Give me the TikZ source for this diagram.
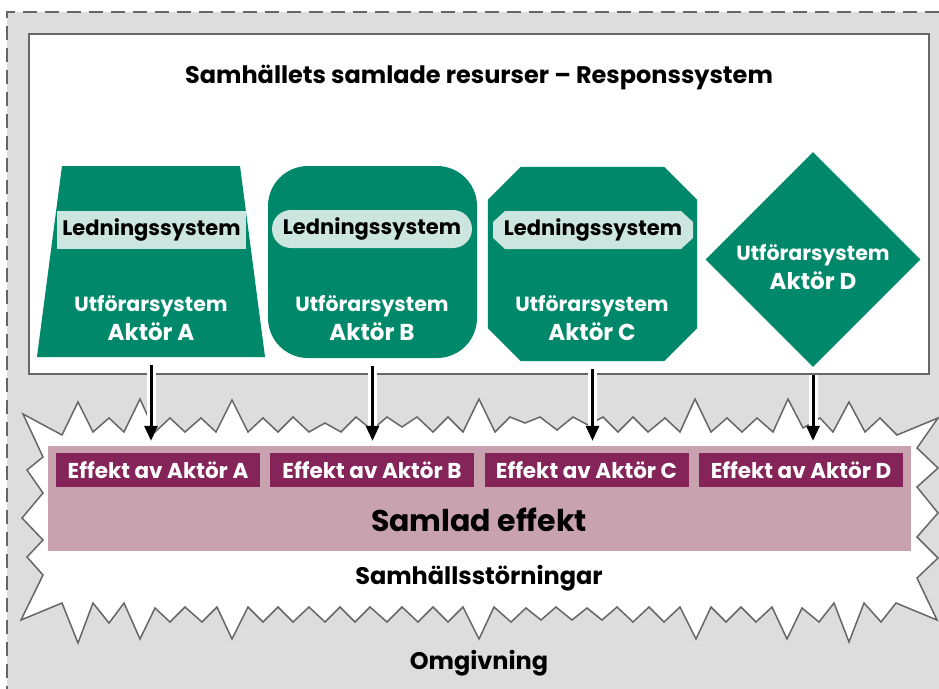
\documentclass[tikz,border=0pt]{standalone}
\usepackage{fontspec}
\setmainfont{Poppins}
\usepackage{xcolor}
\usepackage{tikz}
\usetikzlibrary{shapes.geometric,arrows.meta}

\definecolor{grun}{RGB}{0,136,106}
\definecolor{ljusgrun}{RGB}{204,230,223}
\definecolor{vin}{RGB}{133,36,88}
\definecolor{rosa}{RGB}{201,162,176}
\definecolor{omgiv}{RGB}{221,221,221}
\definecolor{kant}{RGB}{102,102,102}

\newcommand{\aktorrad}[1]{Utförarsystem\\\fontsize{23}{29}\selectfont Aktör #1}

\begin{document}
\begin{tikzpicture}[x=1pt,y=-1pt,
    aktor/.style={fill=grun,inner sep=1pt},
    lednings/.style={inner sep=0pt,minimum height=38pt,font=\bfseries\fontsize{21}{21}\selectfont},
    utforar/.style={text=white,align=center,font=\bfseries\fontsize{20.5}{29}\selectfont},
    effekt/.style={fill=vin,text=white,inner sep=0pt,minimum width=204pt,minimum height=34pt,font=\bfseries\fontsize{21.5}{21.5}\selectfont},
    rubrik/.style={font=\bfseries\fontsize{24}{24}\selectfont},
    pil/.style={line width=3pt,-{Triangle[length=15pt,width=13pt]},preaction={draw,white,line width=9pt},shorten <=8pt,shorten >=12pt}]
    \useasboundingbox (0,0) rectangle (939,688);
    \fill[omgiv] (7,12) rectangle (960,700);
    \draw[kant,line width=2pt,dash pattern=on 14pt off 8pt] (7,700) -- (7,12) -- (960,12);
    \node[draw=kant,line width=1.5pt,fill=white,minimum width=900pt,minimum height=340pt] (resp) at (479,204) {};
    \node[rubrik] (titel) at (479,77) {Samhällets samlade resurser – Responssystem};

    \node[aktor,trapezium,trapezium stretches=true,trapezium angle=82,minimum width=228pt,minimum height=191pt] (a) at (151,261.5) {};
    \node[aktor,rectangle,rounded corners=40pt,minimum width=209pt,minimum height=192pt] (b) at (372.5,262) {};
    \node[inner sep=0pt,minimum width=209pt,minimum height=194pt] (c) at (592.5,264) {};
    \fill[grun] ([xshift=33pt]c.north west) -- ([xshift=-33pt]c.north east) -- ([yshift=-33pt]c.north east)
        -- ([yshift=33pt]c.south east) -- ([xshift=-33pt]c.south east) -- ([xshift=33pt]c.south west)
        -- ([yshift=33pt]c.south west) -- ([yshift=-33pt]c.north west) -- cycle;
    \node[aktor,diamond,minimum width=215pt,minimum height=215pt] (d) at (813,259.5) {};

    \node[lednings,fill=ljusgrun,minimum width=189pt] (la) at (151.5,230) {Ledningssystem};
    \node[lednings,fill=ljusgrun,rounded corners=19pt,minimum width=200pt] (lb) at (372,229) {Ledningssystem};
    \fill[ljusgrun] (505,211) -- (681,211) -- (693,222) -- (693,238) -- (681,249) -- (505,249) -- (493,238) -- (493,222) -- cycle;
    \node[lednings] (lc) at (593,230) {Ledningssystem};

    \node[utforar] (ua) at (151,318) {\aktorrad{A}};
    \node[utforar] (ub) at (372,318) {\aktorrad{B}};
    \node[utforar] (uc) at (592,318) {\aktorrad{C}};
    \node[utforar] (ud) at (813,267) {\aktorrad{D}};

    \draw[kant,line width=1.5pt,fill=white] (23,414) -- (62,435) -- (78,402) -- (93,432) -- (109,418) -- (124,432) -- (140,399)
        -- (155,432) -- (170,418) -- (185,432) -- (201,418) -- (216,432) -- (232,400) -- (248,432) -- (263,418) -- (278,432)
        -- (293,417) -- (309,432) -- (325,423) -- (341,432) -- (356,417) -- (372,430) -- (387,417) -- (402,427) -- (417,417)
        -- (433,432) -- (448,417) -- (463,432) -- (479,399) -- (495,432) -- (510,417) -- (525,423) -- (540,417) -- (557,430)
        -- (573,417) -- (588,425) -- (603,417) -- (618,432) -- (633,417) -- (648,432) -- (665,418) -- (680,432) -- (695,399)
        -- (711,432) -- (727,418) -- (742,432) -- (757,418) -- (773,432) -- (788,399) -- (803,428) -- (820,418) -- (833,432)
        -- (849,402) -- (865,432) -- (880,418) -- (897,435) -- (938,418)
        -- (917,448) -- (938,468) -- (917,487) -- (938,513) -- (917,537) -- (938,558) -- (917,578) -- (937,620)
        -- (896,603) -- (881,622) -- (864,603) -- (849,642) -- (834,603) -- (819,622) -- (802,608) -- (787,639) -- (772,607)
        -- (756,622) -- (741,607) -- (726,622) -- (711,607) -- (696,639) -- (680,607) -- (664,622) -- (649,607) -- (633,622)
        -- (617,607) -- (602,620) -- (587,608) -- (572,620) -- (556,607) -- (541,620) -- (526,608) -- (511,622) -- (494,607)
        -- (479,639) -- (463,607) -- (448,622) -- (433,607) -- (418,622) -- (402,607) -- (387,622) -- (370,607) -- (355,622)
        -- (340,607) -- (325,622) -- (309,607) -- (293,622) -- (278,607) -- (263,622) -- (248,607) -- (232,639) -- (217,607)
        -- (202,622) -- (185,607) -- (170,622) -- (155,608) -- (140,639) -- (124,603) -- (109,623) -- (93,603) -- (78,643)
        -- (62,603) -- (21,620)
        -- (43,575) -- (27,557) -- (43,540) -- (22,518) -- (43,493) -- (27,470) -- (43,457) -- cycle;

    \node[fill=rosa,inner sep=0pt,minimum width=863pt,minimum height=105pt] (samlad) at (479.5,498.5) {};
    \node[effekt] (ea) at (158,470) {Effekt av Aktör A};
    \node[effekt] (eb) at (372,470) {Effekt av Aktör B};
    \node[effekt] (ec) at (586.5,470) {Effekt av Aktör C};
    \node[effekt] (ed) at (801,470) {Effekt av Aktör D};
    \node[font=\bfseries\fontsize{30}{30}\selectfont] (samladtext) at (479,520) {Samlad effekt};
    \node[rubrik] (storning) at (479,578) {Samhällsstörningar};
    \node[rubrik] (omgivning) at (479,663) {Omgivning};

    \draw[pil] (a.south) -- (a.south |- ea.north);
    \draw[pil] (b.south) -- (b.south |- eb.north);
    \draw[pil] (c.south) -- (c.south |- ec.north);
    \draw[pil] (d.south) -- (d.south |- ed.north);
\end{tikzpicture}
\end{document}
